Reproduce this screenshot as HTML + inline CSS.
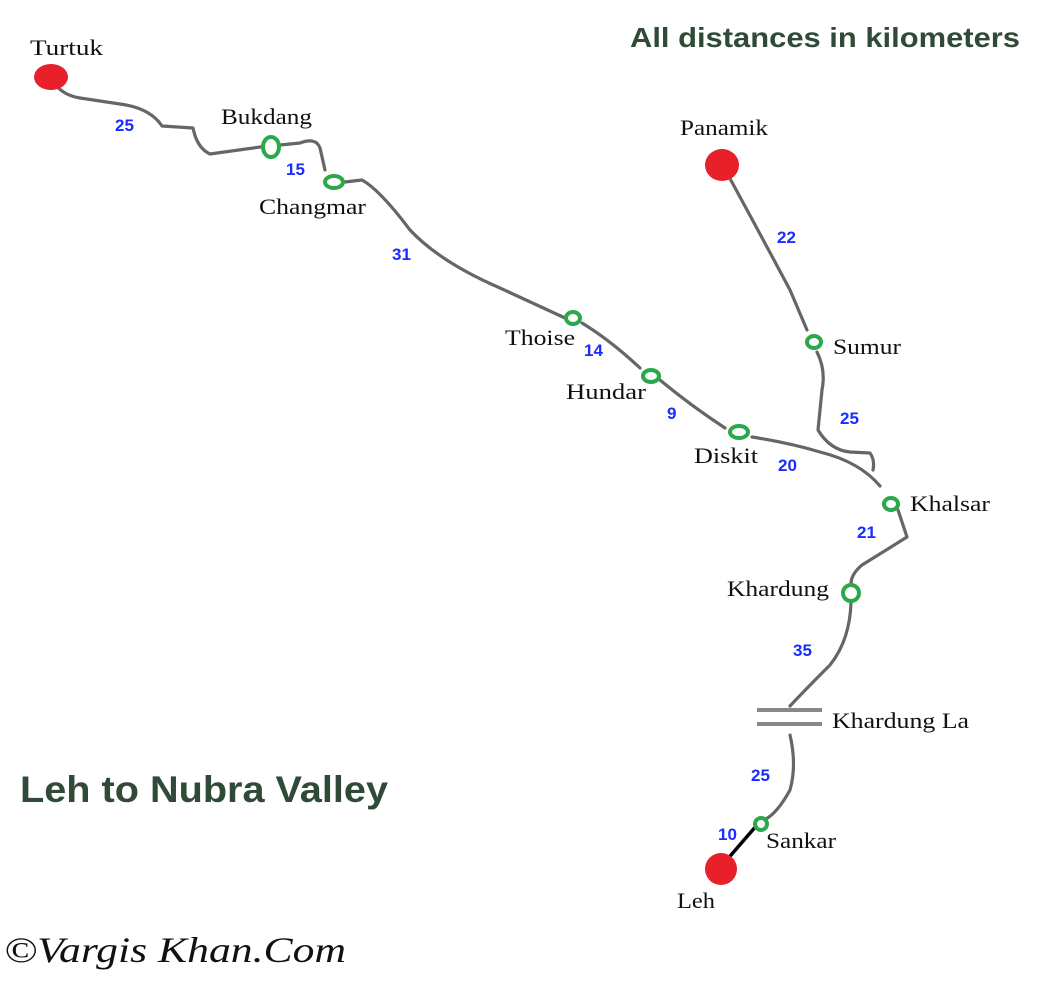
<!DOCTYPE html>
<html><head><style>
body{margin:0;background:#fff}
svg{display:block}
.s text{font-family:"Liberation Serif",serif;font-size:22px;fill:#111}
.n{font-family:"Liberation Sans",sans-serif;font-size:17px;font-weight:bold;fill:#1a2cff}
</style></head><body>
<svg width="1050" height="983" viewBox="0 0 1050 983">
<g fill="none" stroke="#666" stroke-width="3.2" stroke-linejoin="round" stroke-linecap="round">
<path d="M51,78 Q60,95 80,98 L120,104 Q150,108 162,126 L193,128 Q197,148 210,154 L260,147 L300,143 Q316,137 320,148 L325,170 M345,182 L362,180 Q380,190 410,230 Q440,262 500,288 L565,318 M582,323 Q610,340 640,368 M660,380 Q690,405 725,428 M752,437 Q790,443 820,452 Q860,462 880,486 M898,510 L907,537 L862,565 Q850,575 851,586 M851,602 Q850,640 830,665 Q805,690 790,706 M790,735 Q797,765 790,790 Q778,812 766,819"/>
<path d="M722,164 Q750,215 790,290 L807,330 M817,352 Q826,370 822,390 L818,430 Q830,450 850,452 L870,453 Q875,460 873,470"/>
</g>
<path d="M757,825 L725,862" stroke="#000" stroke-width="3.5"/>
<g stroke="#888" stroke-width="4"><line x1="757" y1="710" x2="822" y2="710"/><line x1="757" y1="724" x2="822" y2="724"/></g>
<g fill="#e8202a"><ellipse cx="51" cy="77" rx="17" ry="13"/><ellipse cx="722" cy="165" rx="17" ry="16"/><ellipse cx="721" cy="869" rx="16" ry="16"/></g>
<g fill="#fff" stroke="#2aa84a" stroke-width="4">
<ellipse cx="271" cy="147" rx="8" ry="10"/><ellipse cx="334" cy="182" rx="9" ry="6"/><ellipse cx="573" cy="318" rx="7" ry="6"/><ellipse cx="651" cy="376" rx="8" ry="6"/><ellipse cx="739" cy="432" rx="9" ry="6"/><ellipse cx="814" cy="342" rx="7" ry="6"/><ellipse cx="891" cy="504" rx="7" ry="6"/><ellipse cx="851" cy="593" rx="8" ry="8"/><ellipse cx="761" cy="824" rx="6" ry="6"/>
</g>
<g class="s">
<text x="30" y="55" textLength="73" lengthAdjust="spacingAndGlyphs">Turtuk</text><text x="221" y="124" textLength="91" lengthAdjust="spacingAndGlyphs">Bukdang</text><text x="259" y="214" textLength="107" lengthAdjust="spacingAndGlyphs">Changmar</text><text x="680" y="135" textLength="88" lengthAdjust="spacingAndGlyphs">Panamik</text><text x="505" y="345" textLength="70" lengthAdjust="spacingAndGlyphs">Thoise</text><text x="566" y="399" textLength="80" lengthAdjust="spacingAndGlyphs">Hundar</text><text x="694" y="463" textLength="64" lengthAdjust="spacingAndGlyphs">Diskit</text><text x="833" y="354" textLength="68" lengthAdjust="spacingAndGlyphs">Sumur</text><text x="910" y="511" textLength="80" lengthAdjust="spacingAndGlyphs">Khalsar</text><text x="727" y="596" textLength="102" lengthAdjust="spacingAndGlyphs">Khardung</text><text x="832" y="728" textLength="137" lengthAdjust="spacingAndGlyphs">Khardung La</text><text x="766" y="848" textLength="70" lengthAdjust="spacingAndGlyphs">Sankar</text><text x="677" y="908" textLength="38" lengthAdjust="spacingAndGlyphs">Leh</text>
</g>
<g class="n">
<text x="115" y="131">25</text><text x="286" y="175">15</text><text x="392" y="260">31</text><text x="777" y="243">22</text><text x="584" y="356">14</text><text x="667" y="419">9</text><text x="840" y="424">25</text><text x="778" y="471">20</text><text x="857" y="538">21</text><text x="793" y="656">35</text><text x="751" y="781">25</text><text x="718" y="840">10</text>
</g>
<text x="630" y="47" font-family="Liberation Sans,sans-serif" font-weight="bold" font-size="28" fill="#2f4a36" textLength="390" lengthAdjust="spacingAndGlyphs">All distances in kilometers</text>
<text x="20" y="802" font-family="Liberation Sans,sans-serif" font-weight="bold" font-size="37" fill="#2f4a36" textLength="368" lengthAdjust="spacingAndGlyphs">Leh to Nubra Valley</text>
<text x="4" y="962" font-family="Liberation Serif,serif" font-style="italic" font-size="36" fill="#111" textLength="342" lengthAdjust="spacingAndGlyphs">©Vargis Khan.Com</text>
</svg>
</body></html>
